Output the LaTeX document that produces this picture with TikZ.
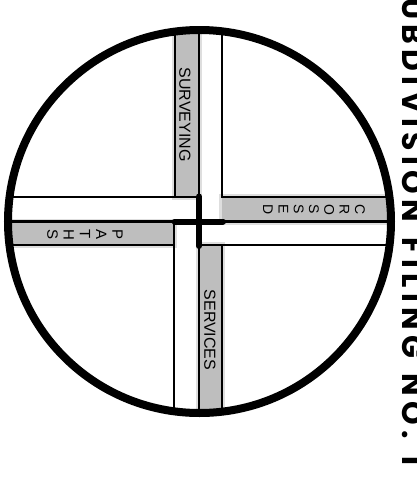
\documentclass[tikz,border=0pt]{standalone}
\usepackage{fontspec}
\setmainfont{Liberation Sans}
\newfontfamily\titlefont{Poppins}[LetterSpace=18, WordSpace=1.3]
\usetikzlibrary{positioning}
\definecolor{roadgray}{HTML}{BEBEBE}
\definecolor{halogray}{HTML}{DEDEDE}
\tikzset{
	roadline/.style={
			draw=black,
			line width=1.6pt
		},
	centerline/.style={
			draw=black,
			line width=2.3pt
		},
	crossbar/.style={
			draw=black,
			line width=6pt,
			line cap=round
		},
	ringline/.style={
			draw=black,
			line width=8pt
		},
	halo/.style={
			draw=halogray,
			line width=6pt
		},
	roadlabel/.style={
			rotate=-90,
			inner sep=0pt,
			font=\fontsize{16}{18}\selectfont
		},
	stacklabel/.style={
			rotate=-90,
			inner sep=0pt,
			align=center
		},
	titletext/.style={
			rotate=-90,
			anchor=base west,
			inner sep=0pt,
			font=\titlefont\bfseries\fontsize{30}{34}\selectfont
		}
}

\begin{document}
\begin{tikzpicture}[x=1pt, y=-1pt]
\useasboundingbox (0,0) rectangle (416,483);
\coordinate (c) at (199.5,221.5);

\begin{scope}
\clip (c) circle (191.5pt);
% gray halves of the four arms
\foreach \xa/\ya/\xb/\yb in {175/0/199/197, 222/197/416/221.5, 199/245/222/483, 0/221.5/174/245}
  \draw[halo] (\xa,\ya) rectangle (\xb,\yb);
\foreach \xa/\ya/\xb/\yb in {175/0/199/197, 222/197/416/221.5, 199/245/222/483, 0/221.5/174/245}
  \fill[white] (\xa,\ya) rectangle (\xb,\yb);
\foreach \xa/\ya/\xb/\yb in {175/0/199/197, 222/197/416/221.5, 199/245/222/483, 0/221.5/174/245}
  \fill[roadgray] (\xa,\ya) rectangle (\xb,\yb);

\draw[roadline] (175,0) -- (175,197);
\draw[roadline] (222,0) -- (222,197) -- (416,197);
\draw[roadline] (0,197) -- (199,197);
\draw[roadline] (199,245) -- (416,245);
\draw[roadline] (174,221.5) -- (174,483);
\draw[roadline] (222,245) -- (222,483);
\draw[roadline] (0,245) -- (174,245);

\draw[centerline] (199,0) -- (199,197);
\draw[centerline] (223,221.5) -- (416,221.5);
\draw[centerline] (199,246) -- (199,483);
\draw[centerline] (0,221.5) -- (175,221.5);
\end{scope}

\coordinate (crossN) at (199,196.5);
\coordinate (crossS) at (199,246);
\coordinate (crossW) at (174.7,221.5);
\coordinate (crossE) at (223,221.5);
\draw[crossbar] (crossN) -- (crossS);
\draw[crossbar] (crossW) -- (crossE);

\draw[ringline] (c) circle (191.5pt);

\node[roadlabel] (surveying) at (185,114.5) {SURVEYING};
\node[roadlabel] (services) at (210,330) {SERVICES};
\node[stacklabel, font=\fontsize{14}{15.3}\selectfont] (crossed) at (314,209.5) {C\\R\\O\\S\\S\\E\\D};
\node[stacklabel, font=\fontsize{15}{16.25}\selectfont] (paths) at (85,234.5) {P\\A\\T\\H\\S};

\node[titletext] (title) at (402,-26) {SUBDIVISION FILING NO. 1};
\end{tikzpicture}
\end{document}
